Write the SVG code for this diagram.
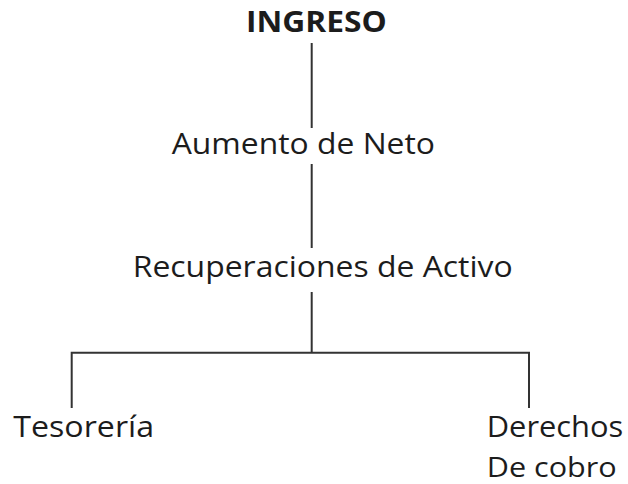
<svg xmlns="http://www.w3.org/2000/svg" width="628" height="484" viewBox="0 0 628 484">
<style>
.t{font-family:"Open Sans","Noto Sans","Liberation Sans",sans-serif;font-size:28.5px;fill:#1c1c1c}
.b{font-weight:bold}
.c{stroke:#333;stroke-width:2;fill:none}
</style>
<rect width="628" height="484" fill="#fff"/>
<g id="connectors">
<line class="c" x1="311.7" y1="43" x2="311.7" y2="128"/>
<line class="c" x1="311.7" y1="164" x2="311.7" y2="248"/>
<polyline class="c" points="311.7,292 311.7,352.7"/>
<polyline class="c" points="71.7,408 71.7,352.7 529,352.7 529,408"/>
</g>
<g id="ingreso"><text class="t b" x="246" y="31.7" textLength="140.7" lengthAdjust="spacingAndGlyphs">INGRESO</text></g>
<g id="aumento"><text class="t" x="171.7" y="154" textLength="263.3" lengthAdjust="spacingAndGlyphs">Aumento de Neto</text></g>
<g id="recuperaciones"><text class="t" x="132.7" y="276.7" textLength="380" lengthAdjust="spacingAndGlyphs">Recuperaciones de Activo</text></g>
<g id="tesoreria"><text class="t" x="13.3" y="437.3" textLength="140.7" lengthAdjust="spacingAndGlyphs">Tesorería</text></g>
<g id="derechos"><text class="t" x="486.7" y="437.3" textLength="136.6" lengthAdjust="spacingAndGlyphs">Derechos</text><text class="t" x="486.7" y="477" style="font-size:27px" textLength="130" lengthAdjust="spacingAndGlyphs">De cobro</text></g>
</svg>
